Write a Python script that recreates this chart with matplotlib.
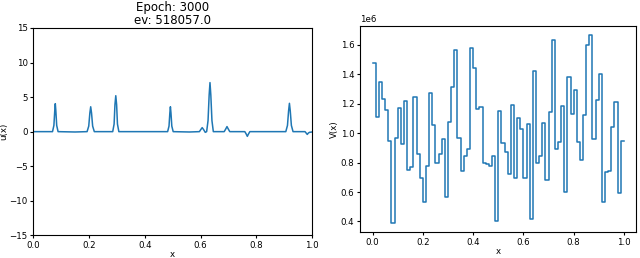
import numpy as np
import matplotlib
matplotlib.use("Agg")
import matplotlib.pyplot as plt

strTitle = "Epoch: 3000\nev: 518057.0"

# u(x) samples (baseline 0 between peaks)
vecUX = [0.000,
         0.069, 0.074, 0.077, 0.079, 0.081, 0.084, 0.089,
         0.150,
         0.193, 0.199, 0.203, 0.206, 0.209, 0.213, 0.219,
         0.285, 0.290, 0.293, 0.296, 0.299, 0.302, 0.307,
         0.482, 0.487, 0.490, 0.492, 0.494, 0.497, 0.502,
         0.560,
         0.596, 0.601, 0.606, 0.611, 0.617,
         0.622, 0.627, 0.631, 0.634, 0.637, 0.641, 0.646,
         0.685, 0.690, 0.695, 0.700, 0.705,
         0.759, 0.764, 0.768, 0.772, 0.777,
         0.906, 0.912, 0.916, 0.919, 0.922, 0.926, 0.932,
         0.975, 0.979, 0.983, 0.987, 0.991, 1.000]
vecUVals = [0.0,
            0.0, 0.9, 3.0, 4.05, 3.0, 0.9, 0.0,
            -0.05,
            0.0, 0.8, 2.7, 3.6, 2.7, 0.8, 0.0,
            0.0, 1.1, 3.9, 5.2, 3.9, 1.1, 0.0,
            0.0, 0.8, 2.7, 3.6, 2.7, 0.8, 0.0,
            -0.05,
            0.0, 0.3, 0.58, 0.3, -0.1,
            0.0, 1.6, 5.3, 7.1, 5.3, 1.6, 0.0,
            0.0, 0.35, 0.73, 0.35, 0.0,
            0.0, -0.35, -0.68, -0.35, 0.0,
            0.0, 0.9, 3.0, 4.1, 3.0, 0.9, 0.0,
            0.0, -0.2, -0.4, -0.2, -0.1, -0.05]

# V(x) piecewise constant levels (x1e6), 80 equal bins on [0, 1]
vecVVals = [1.48, 1.11, 1.35, 1.23, 1.16, 0.945, 0.39, 0.965, 1.17, 0.925,
            1.22, 0.75, 0.77, 1.245, 0.86, 0.695, 0.53, 0.775, 1.275, 1.055,
            0.80, 0.855, 0.96, 0.565, 1.075, 1.315, 1.565, 0.97, 0.74, 0.845,
            0.895, 1.58, 1.445, 1.165, 1.18, 0.80, 0.79, 0.775, 0.845, 0.40,
            1.15, 0.935, 0.875, 0.72, 1.19, 0.695, 1.10, 1.03, 0.695, 1.06,
            0.415, 1.425, 0.80, 0.845, 1.07, 0.68, 1.145, 1.63, 0.895, 0.94,
            1.185, 0.60, 1.38, 1.13, 1.295, 0.94, 0.815, 1.12, 1.60, 1.665,
            0.96, 1.225, 1.40, 0.53, 0.735, 0.745, 1.04, 1.21, 0.59, 0.95]

fTick = 6.2
fLabel = 6.2

fig = plt.figure(figsize=(6.4, 2.58), dpi=100)

#----------------left: u(x)-----------------#
axU = fig.add_axes([0.052, 0.088, 0.4355, 0.8035])
axU.plot(vecUX, vecUVals, color="#1f77b4", linewidth=1.1)
axU.set_xlim(0, 1)
axU.set_ylim(-15, 15)
axU.set_xticks(np.arange(0, 1.01, 0.2))
axU.set_yticks(np.arange(-15, 16, 5))
axU.tick_params(labelsize=fTick, length=2.5, pad=1.5)
axU.set_xlabel("x", fontsize=fLabel, labelpad=0)
axU.set_ylabel("u(x)", fontsize=fLabel, labelpad=1)
axU.set_title(strTitle, fontsize=8.5, pad=3, linespacing=1.0)

#----------------right: V(x)-----------------#
axV = fig.add_axes([0.5625, 0.0996, 0.432, 0.80])
vecEdges = np.linspace(0, 1, len(vecVVals) + 1)
vecV = np.array(vecVVals + [vecVVals[-1]]) * 1e6
axV.step(vecEdges, vecV, where="post", color="#1f77b4", linewidth=1.1)
axV.set_xticks(np.arange(0, 1.01, 0.2))
axV.tick_params(labelsize=fTick, length=2.5, pad=1.5)
axV.yaxis.get_offset_text().set_fontsize(fTick)
axV.set_xlabel("x", fontsize=fLabel, labelpad=0)
axV.set_ylabel("V(x)", fontsize=fLabel, labelpad=1)

fig.savefig("out.png", dpi=100)
